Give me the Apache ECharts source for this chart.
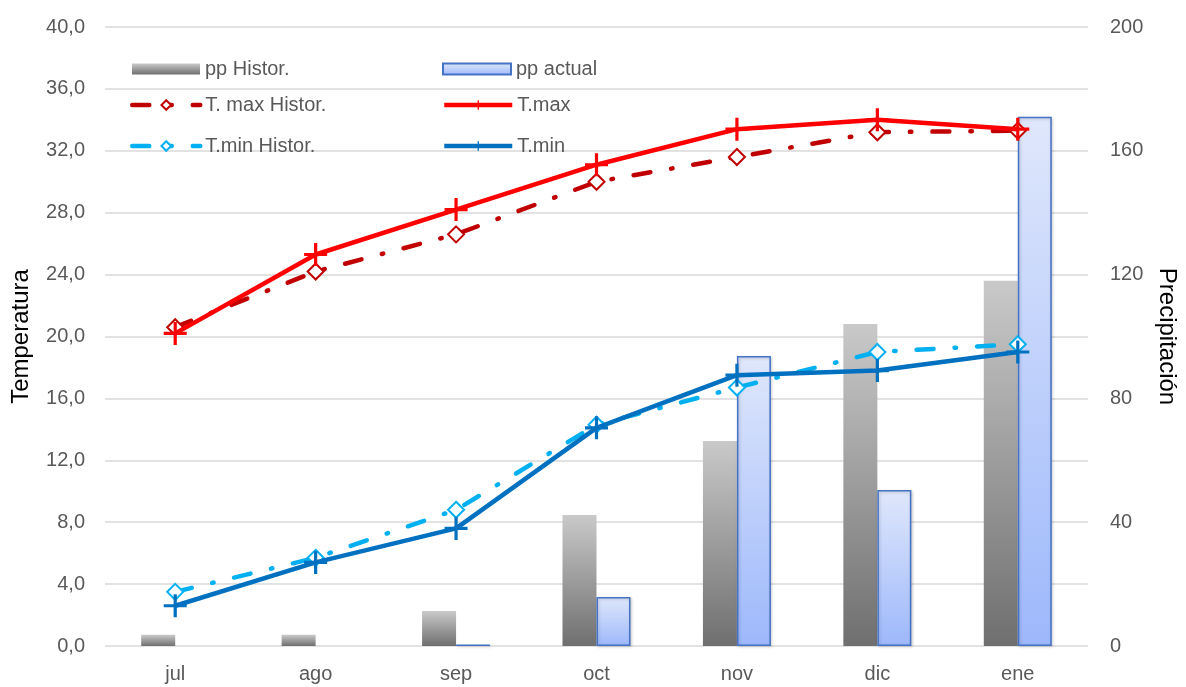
<!DOCTYPE html>
<html>
<head>
<meta charset="utf-8">
<script src="https://cdn.jsdelivr.net/npm/echarts@6/dist/echarts.min.js"></script>
<style>
  html, body { margin: 0; padding: 0; background: #fff; }
  #chart { width: 1186px; height: 687px; }
</style>
</head>
<body>
<div id="chart"></div>
<script>
// data
const months = ['jul', 'ago', 'sep', 'oct', 'nov', 'dic', 'ene']
const ppHistor = [3.6, 3.6, 11.3, 42.3, 66.2, 104, 118]
const ppActual = [null, null, 0.5, 15.8, 93.7, 50.4, 171]
const tMaxHistor = [20.6, 24.2, 26.6, 30.0, 31.6, 33.2, 33.3]
const tMax = [20.2, 25.3, 28.2, 31.1, 33.4, 34.0, 33.4]
const tMinHistor = [3.5, 5.7, 8.8, 14.3, 16.7, 19.0, 19.5]
const tMin = [2.6, 5.4, 7.6, 14.1, 17.5, 17.8, 19.0]

const FONT = '"Liberation Sans", Arial, sans-serif'
const plus = 'path://M-1.6,-11.5H1.6V11.5H-1.6Z M-11.5,-1.6H11.5V1.6H-11.5Z'
const dashDot = [17, 21, 1.5, 21]

const chart = echarts.init(document.getElementById('chart'))

const legendBase = {
  itemWidth: 68,
  itemHeight: 12,
  lineStyle: { width: 4.5 },
  textStyle: { fontSize: 20, color: '#595959', fontFamily: FONT }
}
const legendAt = (name, left, top, extra) =>
  Object.assign({}, legendBase, { data: [name], left, top }, extra || {})

const option = {
  animation: false,
  textStyle: { fontFamily: FONT },
  grid: { left: 105, right: 98, top: 27, bottom: 41, outerBoundsMode: 'none', containLabel: false },
  legend: [
    legendAt('pp Histor.', 127, 54, { icon: 'rect', itemHeight: 11 }),
    legendAt('pp actual', 437, 54, { icon: 'rect', itemHeight: 11 }),
    legendAt('T. max Histor.', 125, 90),
    legendAt('T.max', 437, 90),
    legendAt('T.min Histor.', 125, 131),
    legendAt('T.min', 437, 131)
  ],
  xAxis: {
    type: 'category',
    data: months,
    axisLine: { show: false },
    axisTick: { show: false },
    axisLabel: { fontSize: 20, color: '#595959', margin: 18 }
  },
  yAxis: [
    {
      type: 'value',
      min: 0,
      max: 40,
      interval: 4,
      name: 'Temperatura',
      nameLocation: 'middle',
      nameGap: 72,
      nameTextStyle: { fontSize: 24, color: '#000' },
      axisLabel: {
        fontSize: 20,
        color: '#595959',
        margin: 20,
        formatter: v => v.toFixed(1).replace('.', ',')
      },
      splitLine: { lineStyle: { color: '#d9d9d9', width: 1.5 } }
    },
    {
      type: 'value',
      min: 0,
      max: 200,
      interval: 40,
      name: 'Precipitación',
      nameLocation: 'middle',
      nameGap: 66,
      nameRotate: -90,
      nameTextStyle: { fontSize: 24, color: '#000' },
      axisLabel: { fontSize: 20, color: '#595959', margin: 22 },
      splitLine: { show: false }
    }
  ],
  series: [
    {
      type: 'bar',
      name: 'pp Histor.',
      yAxisIndex: 1,
      data: ppHistor,
      barWidth: 34,
      barGap: '0%',
      itemStyle: {
        color: new echarts.graphic.LinearGradient(0, 0, 0, 1, [
          { offset: 0, color: '#c9c9c9' },
          { offset: 1, color: '#6f6f6f' }
        ])
      },
      z: 1
    },
    {
      type: 'bar',
      name: 'pp actual',
      yAxisIndex: 1,
      data: ppActual,
      barWidth: 34,
      barGap: '0%',
      itemStyle: {
        color: new echarts.graphic.LinearGradient(0, 0, 0, 1, [
          { offset: 0, color: '#dfe7fb' },
          { offset: 1, color: '#9db8fb' }
        ]),
        borderColor: '#4472c4',
        borderWidth: 1.5,
        shadowColor: 'rgba(0,0,0,0.2)',
        shadowBlur: 3,
        shadowOffsetX: 1,
        shadowOffsetY: 1
      },
      z: 1
    },
    {
      type: 'line',
      name: 'T. max Histor.',
      data: tMaxHistor,
      symbol: 'emptyDiamond',
      symbolSize: 16,
      color: '#c00000',
      itemStyle: { color: '#c00000', borderWidth: 2 },
      lineStyle: { color: '#c00000', width: 4.5, type: dashDot, cap: 'round' },
      z: 3
    },
    {
      type: 'line',
      name: 'T.max',
      data: tMax,
      symbol: plus,
      symbolSize: 23,
      color: '#ff0000',
      itemStyle: { color: '#ff0000' },
      lineStyle: { color: '#ff0000', width: 4.5 },
      z: 4
    },
    {
      type: 'line',
      name: 'T.min Histor.',
      data: tMinHistor,
      symbol: 'emptyDiamond',
      symbolSize: 16,
      color: '#00b0f0',
      itemStyle: { color: '#00b0f0', borderWidth: 2 },
      lineStyle: { color: '#00b0f0', width: 4.5, type: dashDot, cap: 'round' },
      z: 3
    },
    {
      type: 'line',
      name: 'T.min',
      data: tMin,
      symbol: plus,
      symbolSize: 23,
      color: '#0070c0',
      itemStyle: { color: '#0070c0' },
      lineStyle: { color: '#0070c0', width: 4.5 },
      z: 4
    }
  ]
}

chart.setOption(option)
</script>
</body>
</html>
